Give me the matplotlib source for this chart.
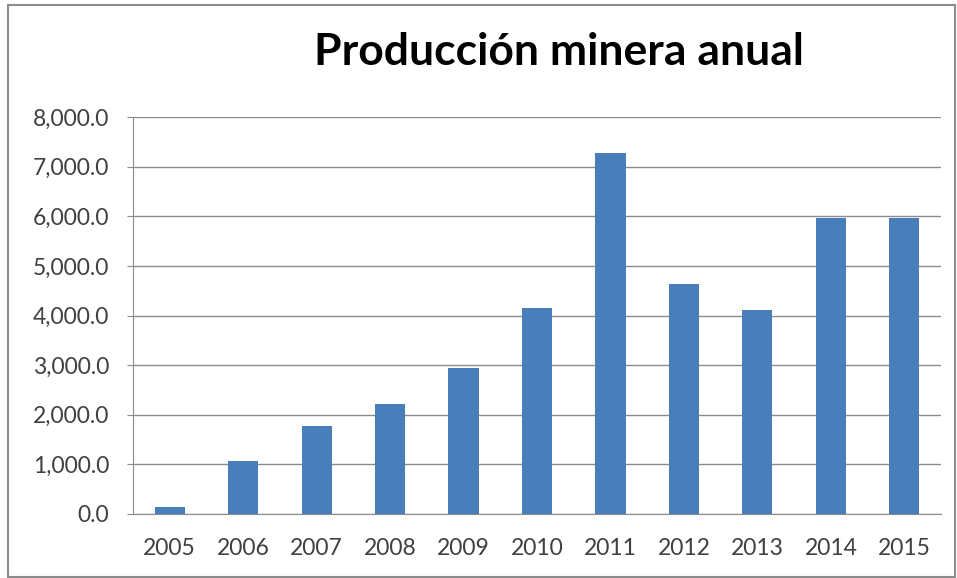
import matplotlib
matplotlib.use("Agg")
import matplotlib.pyplot as plt
from matplotlib.patches import Rectangle
from matplotlib.ticker import FuncFormatter, MultipleLocator

years = ["2005", "2006", "2007", "2008", "2009", "2010",
         "2011", "2012", "2013", "2014", "2015"]
produccion = [140, 1070, 1765, 2225, 2945, 4155,
              7275, 4640, 4105, 5955, 5955]
titulo = "Producción minera anual"

plt.rcParams['font.family'] = ['Lato', 'DejaVu Sans']

fig = plt.figure(figsize=(9.57, 5.78), dpi=100)
W, H = 957, 578

# plot area in pixels: x 133..941, y 117..514
ax = fig.add_axes([133 / W, 1 - 514 / H, 808 / W, 397 / H])

x = range(len(years))
ax.bar(x, produccion, width=0.41, color="#4a7ebb", zorder=3)

ax.set_xlim(-0.5, len(years) - 0.5)
ax.set_ylim(0, 8000)
ax.yaxis.set_major_locator(MultipleLocator(1000))
ax.yaxis.set_major_formatter(FuncFormatter(lambda v, p: f"{v:,.1f}"))
ax.set_xticks(list(x))
ax.set_xticklabels(years)

ax.grid(axis="y", color="#8c8c8c", linewidth=1.0, zorder=0)
for s in ["top", "right"]:
    ax.spines[s].set_visible(False)
ax.spines["left"].set_color("#8c8c8c")
ax.spines["bottom"].set_color("#8c8c8c")
ax.tick_params(axis="y", length=4, color="#8c8c8c", pad=13,
               labelsize=16.5, labelcolor="#404040")
ax.tick_params(axis="x", length=0, pad=17, labelsize=16.5, labelcolor="#404040")

fig.text(559 / W, 1 - 52 / H, titulo, ha="center", va="center",
         fontsize=32, fontweight="bold", color="black")

# outer chart border
fig.patches.append(Rectangle((8 / W, 1 / H), 947 / W, 572 / H,
                             transform=fig.transFigure, fill=False,
                             edgecolor="#8c8c8c", linewidth=1.5))

fig.savefig("out.png", dpi=100)
